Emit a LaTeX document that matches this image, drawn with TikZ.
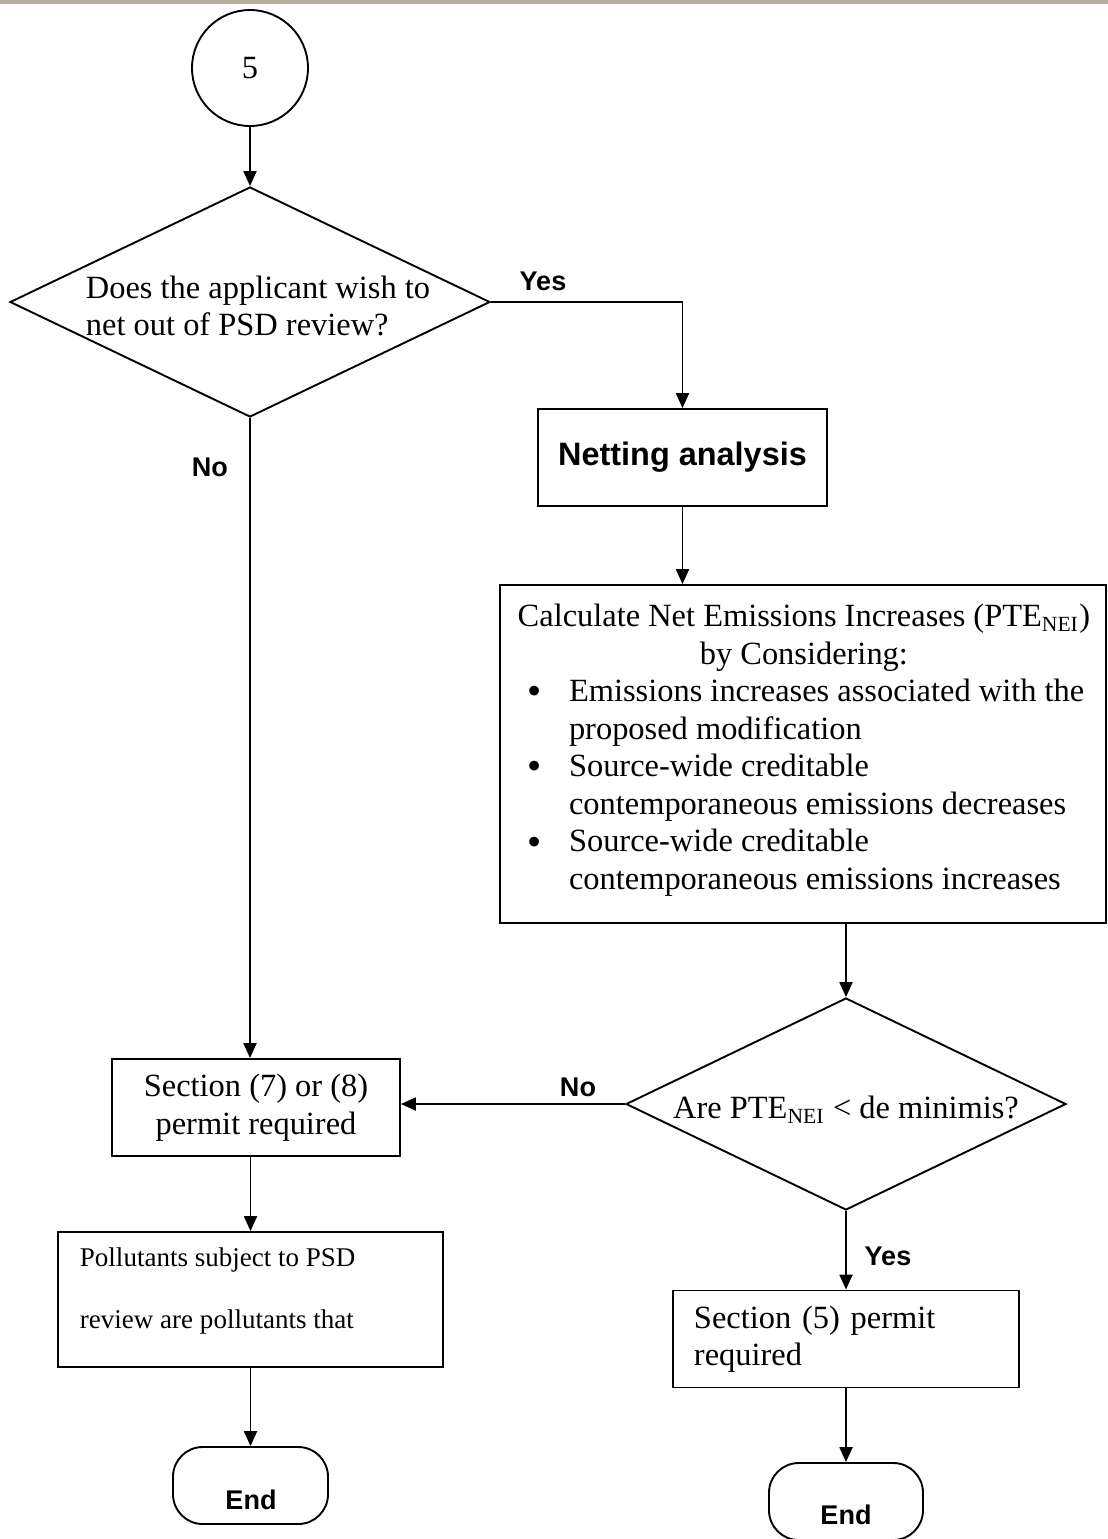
\documentclass[tikz,border=0pt]{standalone}
\usepackage{fontspec}
\setmainfont{Liberation Serif}
\newfontfamily\labelsans{Liberation Sans}
\usetikzlibrary{positioning}
\usetikzlibrary{calc,arrows.meta}
\usetikzlibrary{shapes.geometric}
\definecolor{fc-bar}{HTML}{B1AD9A}
\newcommand{\bigdot}{\makebox[15.2pt][l]{\raisebox{-1.2pt}{\fontsize{15}{12}\selectfont\textbullet}}}

\begin{document}
\begin{tikzpicture}[
    x=0.37pt, y=-0.37pt,
    font=\fontsize{12}{13.9}\selectfont,
    >={Triangle[length=5.5pt,width=4.8pt]},
    line width=0.7pt
  ]

  \tikzset{
    dims/.style 2 args={minimum width=#1*0.37pt, minimum height=#2*0.37pt},
    procbox/.style={draw, rectangle, inner sep=0pt},
    decision/.style={draw, diamond, inner sep=0pt},
    terminal/.style={draw, rectangle, rounded corners=11pt, inner sep=0pt},
    branch/.style={font=\labelsans\bfseries\fontsize{10}{12}\selectfont}
  }

  \useasboundingbox (0,0) rectangle (1108,1539);
  \fill[fc-bar] (0,0) rectangle (1108,4);

  % Left column: question and "no" path
  \node (start) [draw, circle, minimum size=116*0.37pt, inner sep=0pt] at (250,68) {5};
  \node (q1) [decision, dims={480}{230}] at (250,302) {};
  \node (q1txt) [align=left] at (258,306) {Does the applicant wish to\\net out of PSD review?};
  \node (yes1) [branch] at (543,281) {Yes};
  \node (no1) [branch] at (210,467) {No};

  % Right column: netting
  \node (netting) [procbox, dims={289}{97}, font=\labelsans\bfseries\fontsize{12}{14}\selectfont] at (682.5,457.5) {Netting analysis};
  \node (calc) [procbox, dims={606}{338}] at (803,754) {};
  \node (calctxt) [align=left, inner sep=0pt, anchor=north west] at (527,603) {%
    \makebox[204.2pt][c]{Calculate Net Emissions Increases (PTE\textsubscript{NEI})}\\
    \makebox[204.2pt][c]{by Considering:}\\
    \bigdot Emissions increases associated with the\\
    \hspace*{15.2pt}proposed modification\\
    \bigdot Source-wide creditable\\
    \hspace*{15.2pt}contemporaneous emissions decreases\\
    \bigdot Source-wide creditable\\
    \hspace*{15.2pt}contemporaneous emissions increases};
  \node (q2) [decision, dims={440}{212}] at (846,1104) {};
  \node (q2txt) at (846,1110) {Are PTE\textsubscript{NEI} < de minimis?};
  \node (no2) [branch] at (578,1087) {No};
  \node (yes2) [branch] at (888,1256) {Yes};

  % Outcomes
  \node (sec78) [procbox, dims={288}{97}, align=center] at (256,1107.5) {Section (7) or (8)\\permit required};
  \node (poll) [procbox, dims={385}{135}] at (250.5,1299.5) {};
  \node (polltxt) [anchor=west, align=left, inner sep=0pt, font=\fontsize{10}{23}\selectfont] at (79,1291) {Pollutants subject to PSD\\review are pollutants that};
  \node (sec5) [procbox, dims={346}{97}, align=left, text width=112.5pt, inner xsep=7.8pt] at (846,1339) {Section (5) permit\\required};
  \node (end1) [terminal, dims={155}{77}] at (250.5,1485.5) {};
  \node (end1txt) [branch] at (251,1500) {End};
  \node (end2) [terminal, dims={154}{77}] at (846,1501.5) {};
  \node (end2txt) [branch] at (846,1515) {End};

  \draw[->] (start) -- (q1);
  \draw[->] (q1.east) -| (netting.north);
  \draw[->] (netting.south) -- (netting.south |- calc.north);
  \draw[->] (q2.north |- calc.south) -- (q2.north);
  \draw[->] (q1.south) -- (q1.south |- sec78.north);
  \draw[->] (q2.west) -- (q2.west -| sec78.east);
  \draw[->] (q2.south) -- (sec5.north);
  \draw[->] (poll.north |- sec78.south) -- (poll.north);
  \draw[->] (poll.south) -- (end1.north);
  \draw[->] (sec5.south) -- (end2.north);

\end{tikzpicture}
\end{document}
